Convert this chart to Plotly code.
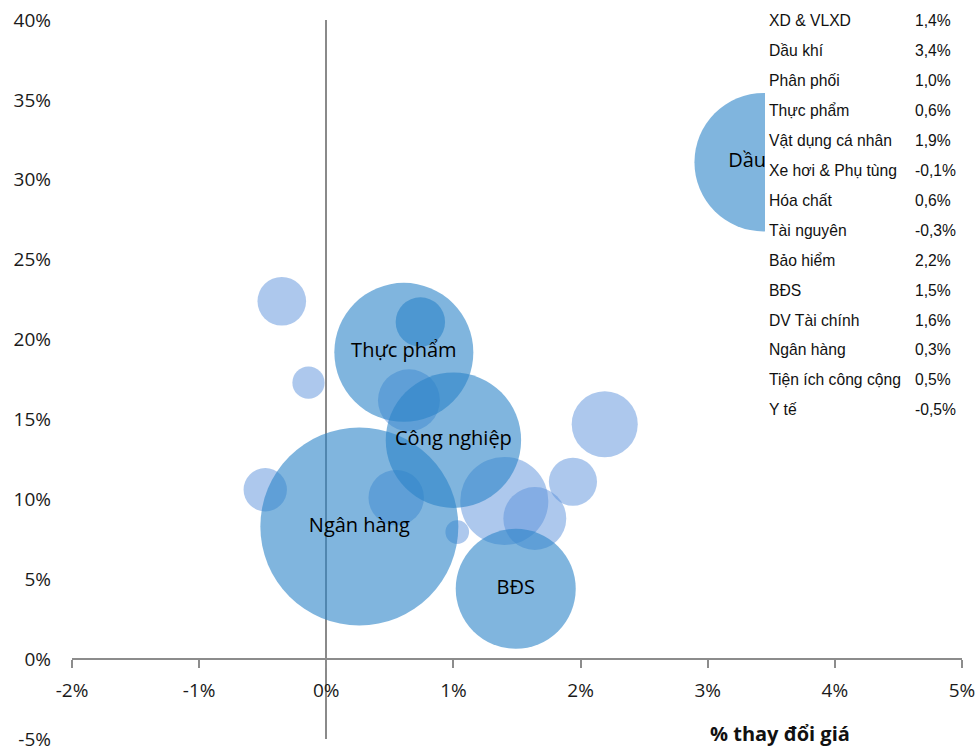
import plotly.graph_objects as go

# ---------------- data ----------------
# major sectors (labelled, medium blue)
major_names = ["Dầu khí", "Thực phẩm", "Công nghiệp", "Ngân hàng", "BĐS", ""]
major_x = [3.44, 0.61, 1.00, 0.26, 1.49, 0.74]
major_y = [31.1, 19.2, 13.7, 8.3, 4.4, 21.1]
major_size = [47.9, 48.3, 45.8, 98.0, 36.0, 6.1]

# minor sectors (light blue, unlabelled)
minor_names = ["Tài nguyên", "Xe hơi & Phụ tùng", "Y tế", "Hóa chất", "Tiện ích công cộng",
               "Phân phối", "XD & VLXD", "DV Tài chính", "Vật dụng cá nhân", "Bảo hiểm"]
minor_x = [-0.35, -0.14, -0.48, 0.65, 0.55, 1.03, 1.40, 1.64, 1.94, 2.19]
minor_y = [22.4, 17.3, 10.6, 16.2, 10.1, 7.95, 9.9, 8.8, 11.1, 14.7]
minor_size = [5.9, 2.6, 4.7, 9.6, 7.7, 1.4, 19.4, 9.9, 5.8, 10.9]

# side table
table_names = ["XD & VLXD", "Dầu khí", "Phân phối", "Thực phẩm", "Vật dụng cá nhân",
               "Xe hơi & Phụ tùng", "Hóa chất", "Tài nguyên", "Bảo hiểm", "BĐS",
               "DV Tài chính", "Ngân hàng", "Tiện ích công cộng", "Y tế"]
table_values = ["1,4%", "3,4%", "1,0%", "0,6%", "1,9%", "-0,1%", "0,6%", "-0,3%",
                "2,2%", "1,5%", "1,6%", "0,3%", "0,5%", "-0,5%"]

x_tickvals = [-2, -1, 0, 1, 2, 3, 4, 5]
x_ticktext = ["-2%", "-1%", "0%", "1%", "2%", "3%", "4%", "5%"]
y_tickvals = [-5, 0, 5, 10, 15, 20, 25, 30, 35, 40]
y_ticktext = ["-5%", "0%", "5%", "10%", "15%", "20%", "25%", "30%", "35%", "40%"]
x_title = "% thay đổi giá"

# ---------------- layout geometry ----------------
W, H = 975, 749
ML, MR, MT, MB = 72, 13, 20, 10
PW, PH = W - ML - MR, H - MT - MB


def px_x(p):
    return (p - ML) / PW


def px_y(p):
    return (H - MB - p) / PH


SIZEREF = 0.005
TICK_FONT = dict(family="Open Sans", size=19, color="#1a1a1a")

fig = go.Figure()

fig.add_trace(go.Scatter(
    x=minor_x, y=minor_y, mode="markers", text=minor_names, hoverinfo="text",
    marker=dict(size=minor_size, sizemode="area", sizeref=SIZEREF, opacity=1,
                color="rgba(91,146,219,0.5)", line=dict(width=0)),
    cliponaxis=False, showlegend=False))

fig.add_trace(go.Scatter(
    x=major_x, y=major_y, mode="markers", text=major_names, hoverinfo="text",
    marker=dict(size=major_size, sizemode="area", sizeref=SIZEREF, opacity=1,
                color="rgba(44,132,200,0.6)", line=dict(width=0)),
    cliponaxis=False, showlegend=False))

fig.add_trace(go.Scatter(
    x=major_x, y=major_y, mode="text", text=major_names,
    textposition="middle center",
    textfont=dict(family="Open Sans", size=20, color="#000000"),
    hoverinfo="skip", cliponaxis=False, showlegend=False))

fig.update_layout(
    width=W, height=H,
    margin=dict(l=ML, r=MR, t=MT, b=MB, pad=0, autoexpand=False),
    paper_bgcolor="white", plot_bgcolor="white",
    xaxis=dict(range=[-2, 5], tickvals=x_tickvals, ticktext=x_ticktext,
               showgrid=False, zeroline=True, zerolinecolor="#8a8a8a", zerolinewidth=1.5,
               showline=True, linecolor="#8c8c8c", linewidth=2,
               ticks="outside", ticklen=8, tickwidth=2, tickcolor="#8c8c8c",
               anchor="free", position=5 / 45, tickfont=TICK_FONT, ticklabelstandoff=6,
               ticklabeloverflow="allow", automargin=False),
    yaxis=dict(range=[-5, 40], tickvals=y_tickvals, ticktext=y_ticktext,
               showgrid=False, zeroline=False, showline=False, ticks="",
               tickfont=TICK_FONT, ticklabelstandoff=20, ticklabeloverflow="allow",
               automargin=False),
)

# white table panel on the right (covers plot)
fig.add_shape(type="rect", xref="paper", yref="paper",
              x0=px_x(765), x1=px_x(980), y0=px_y(428), y1=px_y(-5),
              fillcolor="white", line=dict(width=0), layer="above")

TABLE_FONT = dict(family="Liberation Sans", size=15.7, color="#111111")
for i, (n, v) in enumerate(zip(table_names, table_values)):
    yc = px_y(21 + 29.9 * i)
    fig.add_annotation(x=px_x(767), y=yc, xref="paper", yref="paper", text=n,
                       showarrow=False, xanchor="left", yanchor="middle", font=TABLE_FONT)
    fig.add_annotation(x=px_x(913), y=yc, xref="paper", yref="paper", text=v,
                       showarrow=False, xanchor="left", yanchor="middle", font=TABLE_FONT)

fig.add_annotation(x=px_x(780), y=px_y(733), xref="paper", yref="paper",
                   text="<b>" + x_title + "</b>", showarrow=False,
                   xanchor="center", yanchor="middle",
                   font=dict(family="Open Sans", size=20, color="#111111"))

fig.write_html("out.html")
